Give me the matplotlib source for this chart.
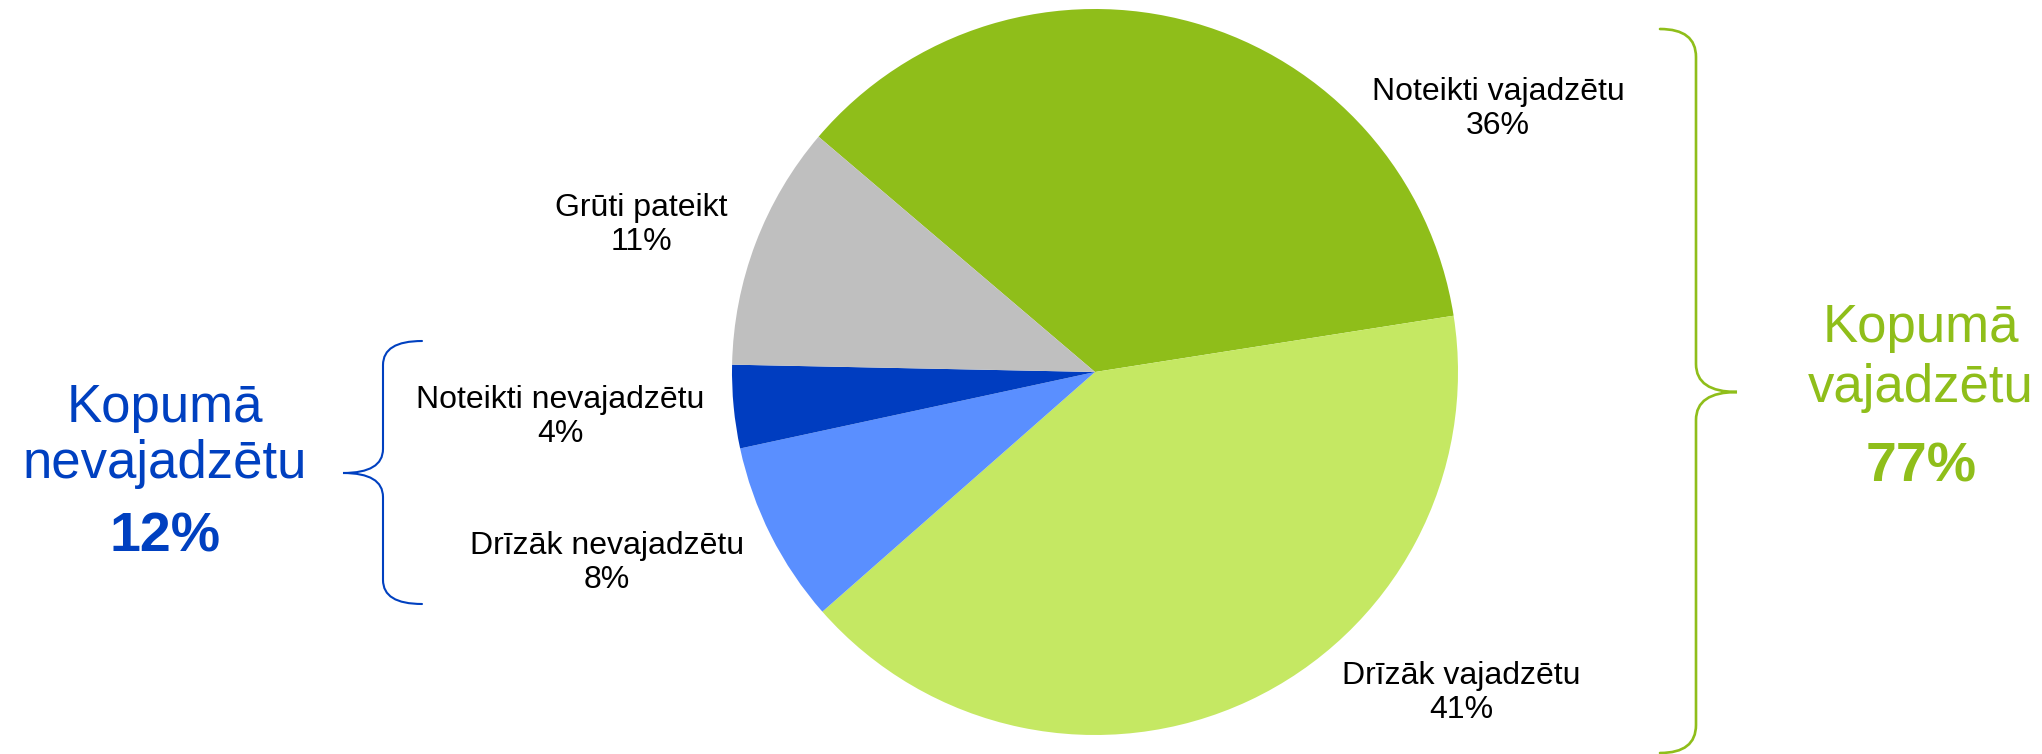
import matplotlib.pyplot as plt
from matplotlib.path import Path
from matplotlib.patches import PathPatch

plt.rcParams['font.family'] = ['Liberation Sans', 'DejaVu Sans']

# data
categories = ['Noteikti vajadzētu', 'Drīzāk vajadzētu', 'Drīzāk nevajadzētu',
              'Noteikti nevajadzētu', 'Grūti pateikt']
values = [36.3, 41.0, 8.1, 3.7, 10.9]
pct_labels = ['36%', '41%', '8%', '4%', '11%']
colors = ['#8FBE1A', '#C5E863', '#5A8FFF', '#003DC0', '#BFBFBF']

total_yes = '77%'
total_no = '12%'

# figure in pixel units (y measured from top, converted below)
W, H = 2042, 754
fig = plt.figure(figsize=(W / 100, H / 100), dpi=100)
ax = fig.add_axes([0, 0, 1, 1])


def Y(y):
    return H - y


ax.pie(values, colors=colors, startangle=139.6, counterclock=False,
       center=(1095, Y(372)), radius=363,
       wedgeprops=dict(linewidth=0))

ax.set_xlim(0, W)
ax.set_ylim(0, H)
ax.set_aspect('equal')
ax.axis('off')

# label positions (pixels from top-left)
label_pos = [(1498, 109), (1461, 693), (607, 563), (560, 417), (641, 225)]
for name, pct, (x, y) in zip(categories, pct_labels, label_pos):
    ax.text(x, Y(y), name + '\n' + pct, ha='center', va='center',
            fontsize=23, linespacing=1.2, color='black')


def brace(x_end, x_line, x_tip, y_top, y_mid, y_bot, r, color, lw):
    pts = [(x_end, y_top), (x_line, y_top), (x_line, y_top + r),
           (x_line, y_mid - r), (x_line, y_mid), (x_tip, y_mid),
           (x_line, y_mid), (x_line, y_mid + r),
           (x_line, y_bot - r), (x_line, y_bot), (x_end, y_bot)]
    codes = [Path.MOVETO, Path.CURVE3, Path.CURVE3,
             Path.LINETO, Path.CURVE3, Path.CURVE3,
             Path.CURVE3, Path.CURVE3,
             Path.LINETO, Path.CURVE3, Path.CURVE3]
    pts = [(x, Y(y)) for x, y in pts]
    ax.add_patch(PathPatch(Path(pts, codes), fill=False, edgecolor=color,
                           linewidth=lw, capstyle='round'))


brace(1660, 1696, 1737, 29, 392, 753, 28, '#8FBE1A', 1.9)
brace(422, 383, 343, 341, 473, 604, 24, '#0040C0', 1.5)

# totals
green = '#8FBE1A'
ax.text(1921, Y(342), 'Kopumā', ha='center', va='baseline',
        fontsize=38, color=green)
ax.text(1921, Y(402), 'vajadzētu', ha='center', va='baseline',
        fontsize=38, color=green)
ax.text(1921, Y(482), total_yes, ha='center', va='baseline',
        fontsize=40, fontweight='bold', color=green)

blue = '#0040C0'
ax.text(165, Y(436), 'Kopumā\nnevajadzētu', ha='center', va='center',
        fontsize=38, linespacing=1.15, color=blue)
ax.text(165, Y(538), total_no, ha='center', va='center',
        fontsize=40, fontweight='bold', color=blue)

fig.savefig('out.png', dpi=100)
